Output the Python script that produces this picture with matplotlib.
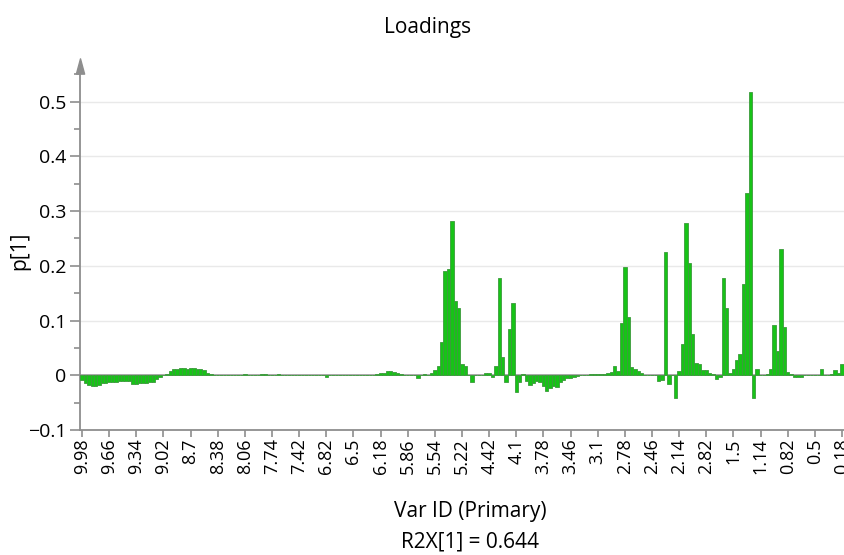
import numpy as np
import matplotlib
matplotlib.use("Agg")
import matplotlib.pyplot as plt

plt.rcParams['font.family'] = ['Open Sans', 'DejaVu Sans']

# loadings p[1] per variable (buckets)
p1 = [
    -0.008, -0.014, -0.017, -0.019, -0.019, -0.018, -0.015, -0.014, -0.013, -0.012,
    -0.012, -0.011, -0.010, -0.010, -0.011, -0.016, -0.016, -0.015, -0.014, -0.014,
    -0.013, -0.012, -0.006, -0.003, 0.000, 0.002, 0.008, 0.011, 0.012, 0.013,
    0.013, 0.012, 0.013, 0.013, 0.012, 0.012, 0.009, 0.005, 0.002, 0.001,
    0.001, 0.001, 0.001, 0.001, 0.001, 0.000, 0.000, 0.000, 0.002, 0.000,
    0.000, 0.000, 0.000, 0.002, 0.002, 0.001, 0.000, 0.000, 0.002, 0.000,
    0.000, 0.000, 0.000, 0.000, 0.000, 0.001, 0.001, 0.001, 0.001, 0.001,
    0.001, 0.001, -0.003, 0.001, 0.001, 0.001, 0.001, 0.001, 0.001, 0.000,
    0.000, 0.000, 0.000, 0.000, 0.000, 0.000, 0.001, 0.002, 0.004, 0.005,
    0.008, 0.007, 0.006, 0.005, 0.003, 0.000, 0.000, 0.000, 0.000, -0.005,
    0.000, 0.002, 0.000, 0.004, 0.009, 0.017, 0.061, 0.190, 0.195, 0.281,
    0.136, 0.123, 0.020, 0.017, 0.000, -0.012, 0.000, 0.000, 0.001, 0.005,
    0.004, -0.003, 0.017, 0.178, 0.034, -0.012, 0.084, 0.132, -0.030, -0.012,
    0.003, -0.011, -0.018, -0.015, -0.010, -0.013, -0.020, -0.029, -0.024, -0.020,
    -0.022, -0.012, -0.008, -0.005, -0.005, -0.003, -0.002, 0.000, 0.000, 0.001,
    0.002, 0.003, 0.003, 0.002, 0.003, 0.005, 0.006, 0.017, 0.007, 0.096,
    0.198, 0.107, 0.016, 0.012, 0.007, 0.004, 0.001, 0.000, 0.000, 0.000,
    -0.010, -0.008, 0.225, -0.016, 0.000, -0.041, 0.008, 0.058, 0.278, 0.205,
    0.076, 0.022, 0.020, 0.010, 0.010, 0.005, 0.002, -0.006, -0.003, 0.177,
    0.122, 0.005, 0.012, 0.028, 0.038, 0.167, 0.333, 0.518, -0.041, 0.012,
    0.001, 0.000, 0.002, 0.012, 0.091, 0.044, 0.230, 0.089, 0.006, 0.003,
    -0.004, -0.004, -0.003, 0.000, 0.000, 0.000, 0.000, 0.000, 0.012, 0.000,
    0.000, 0.002, 0.010, 0.005, 0.020,
]

# var ID labels shown every 8th variable
var_labels = ["9.98", "9.66", "9.34", "9.02", "8.7", "8.38", "8.06", "7.74",
              "7.42", "6.82", "6.5", "6.18", "5.86", "5.54", "5.22", "4.42",
              "4.1", "3.78", "3.46", "3.1", "2.78", "2.46", "2.14", "2.82",
              "1.5", "1.14", "0.82", "0.5", "0.18"]
label_step = 8

y_ticks = [-0.1, 0, 0.1, 0.2, 0.3, 0.4, 0.5]
y_ticklabels = ["\u22120.1", "0", "0.1", "0.2", "0.3", "0.4", "0.5"]

W, H = 845, 555
fig = plt.figure(figsize=(W / 100, H / 100), dpi=100)
ax = fig.add_axes([80 / W, (H - 430) / H, (W - 80) / W, (430 - 66) / H])

x = np.arange(len(p1))
ax.bar(x, p1, width=1.0, color='#17c317', edgecolor='#3c9a3c', linewidth=0.6, zorder=3)
ax.axhline(0, color='#9a9a9a', lw=1.2, zorder=2)

ax.set_xlim(-0.6, 224.9)
ax.set_ylim(-0.1, 0.565)

grey = '#8e8e8e'
for s in ['top', 'right']:
    ax.spines[s].set_visible(False)
for s in ['left', 'bottom']:
    ax.spines[s].set_color(grey)
    ax.spines[s].set_linewidth(1.3)

# arrow head on the y axis
ax.plot(0, 1, marker=[(-0.27, -0.5), (0, 0.5), (0.27, -0.5), (-0.27, -0.5)],
        markersize=11, color=grey, transform=ax.transAxes, clip_on=False, zorder=5)

ax.set_yticks(y_ticks)
ax.set_yticklabels(y_ticklabels)
ax.set_yticks(np.arange(-0.05, 0.56, 0.1), minor=True)
ax.tick_params(axis='y', which='major', length=7, width=1.2, color=grey,
               labelsize=14, pad=3)
ax.tick_params(axis='y', which='minor', length=4, width=1.2, color=grey)

for yv in y_ticks[2:]:
    ax.axhline(yv, color='#e9e9e9', lw=1, zorder=1)

ax.set_xticks(np.arange(len(var_labels)) * label_step)
ax.set_xticklabels(var_labels, rotation=90)
ax.tick_params(axis='x', length=5, width=1.2, color=grey, labelsize=13, pad=1)

fig.text(428 / W, 1 - 27 / H, "Loadings", ha='center', va='center', fontsize=15)
fig.text(470 / W, 1 - 511 / H, "Var ID (Primary)", ha='center', va='center', fontsize=15)
fig.text(470 / W, 1 - 542 / H, "R2X[1] = 0.644", ha='center', va='center', fontsize=15)
fig.text(20 / W, 1 - 251 / H, "p[1]", ha='center', va='center', rotation=90, fontsize=15)

fig.savefig("out.png", dpi=100)
